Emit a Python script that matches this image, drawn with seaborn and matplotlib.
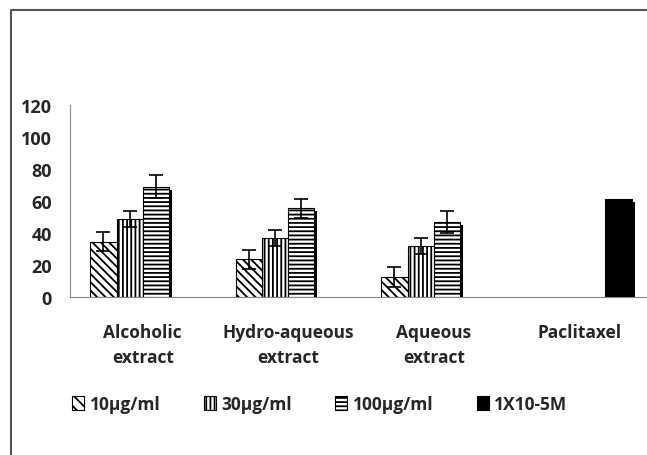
import matplotlib
matplotlib.use("Agg")
import matplotlib.pyplot as plt
import matplotlib.patheffects as pe
from matplotlib.lines import Line2D
from matplotlib.patches import Patch
import seaborn as sns
import pandas as pd

# data
categories = ['Alcoholic\nextract', 'Hydro-aqueous\nextract', 'Aqueous\nextract', 'Paclitaxel']
series = ['10\u00b5g/ml', '30\u00b5g/ml', '100\u00b5g/ml', '1X10-5M']

conc_10 = [34.5, 23.5, 12.5]
conc_30 = [49, 37, 32]
conc_100 = [69, 55.5, 47]
paclitaxel = [61.5]

err_10 = [6, 6, 6]
err_30 = [5, 5, 5]
err_100 = [7, 6, 7]
err_pac = [0]

rows = []
for name, vals, errs, cats in [
    (series[0], conc_10, err_10, categories[:3]),
    (series[1], conc_30, err_30, categories[:3]),
    (series[2], conc_100, err_100, categories[:3]),
    (series[3], paclitaxel, err_pac, categories[3:]),
]:
    for c, v, e in zip(cats, vals, errs):
        rows.append({'Group': c, 'Dose': name, 'Value': v, 'Err': e})
df = pd.DataFrame(rows)

sns.set_style('white')
plt.rcParams['font.family'] = ['Open Sans', 'DejaVu Sans']
plt.rcParams['font.weight'] = 'bold'
plt.rcParams['hatch.linewidth'] = 1.3

fig = plt.figure(figsize=(6.47, 4.56), dpi=100)
ax = fig.add_axes([70 / 647, 1 - 298 / 456, 582 / 647, 192 / 456])

sns.barplot(data=df, x='Group', y='Value', hue='Dose', order=categories,
            hue_order=series, width=0.72, ax=ax, legend=False, errorbar=None)

hatches = ['\\\\\\\\', '||||', '----', '']
shadow = [pe.SimplePatchShadow(offset=(2.2, -2.2), shadow_rgbFace='black', alpha=1.0),
          pe.Normal()]
for cont, h, name in zip(ax.containers, hatches, series):
    sub = df[df['Dose'] == name]
    for bar, (_, r) in zip(cont.patches, sub.iterrows()):
        bar.set_facecolor('black' if h == '' else 'white')
        bar.set_edgecolor('black')
        bar.set_linewidth(0.8)
        bar.set_hatch(h)
        bar.set_path_effects(shadow)
        if r['Err'] > 0:
            ax.errorbar(bar.get_x() + bar.get_width() / 2, bar.get_height(),
                        yerr=r['Err'], color='black', lw=1.2, capsize=5,
                        capthick=1.2, zorder=5)

ax.set_ylim(0, 120)
ax.set_yticks(range(0, 121, 20))
ax.set_xlim(-0.5, 3.5)
ax.set_xlabel('')
ax.set_ylabel('')
ax.set_xticks(range(len(categories)))
ax.set_xticklabels(categories, fontsize=12.5, fontweight='bold', linespacing=1.5)
ax.set_xticks([0.5, 1.5, 2.5], minor=True)
ax.tick_params(axis='x', which='major', length=0, pad=19)
ax.tick_params(axis='x', which='minor', length=4, width=0.8, color='#888888', direction='out')
ax.tick_params(axis='y', length=3, width=0.8, color='#888888', direction='out',
               pad=10, labelsize=13)
for lab in ax.get_yticklabels():
    lab.set_fontweight('bold')
sns.despine(ax=ax)
for s in ['left', 'bottom']:
    ax.spines[s].set_color('#888888')
    ax.spines[s].set_linewidth(0.8)

handles = [Patch(facecolor='black' if h == '' else 'white', edgecolor='black',
                 hatch=h.replace('\\\\\\\\', '\\\\\\'), linewidth=0.8) for h in hatches]
leg = fig.legend(handles, series, loc='center', ncol=4,
                 bbox_to_anchor=(0.494, 1 - 405 / 456), frameon=False,
                 handlelength=0.7, handleheight=0.9, handletextpad=0.3,
                 columnspacing=2.5, prop={'weight': 'bold', 'size': 12.5})

# page border on left and top
fig.add_artist(Line2D([11 / 647, 11 / 647, 1], [0, 1 - 11 / 456, 1 - 11 / 456],
                      transform=fig.transFigure, color='#555555', lw=1.5))

fig.savefig('out.png', dpi=100)
